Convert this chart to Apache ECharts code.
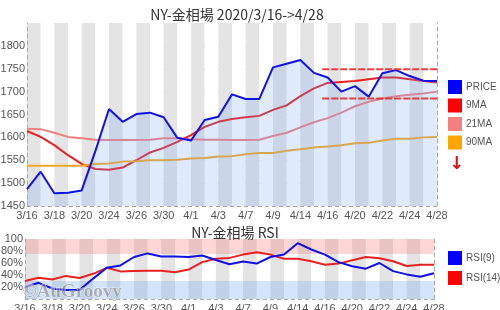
<!DOCTYPE html>
<html><head><meta charset="utf-8">
<script src="https://cdn.jsdelivr.net/npm/echarts@6/dist/echarts.min.js"></script>
<style>html,body{margin:0;padding:0;background:#fff}#c{width:500px;height:310px}</style>
</head><body><div id="c"></div>
<script>
const dates = ['3/16','3/17','3/18','3/19','3/20','3/23','3/24','3/25','3/26','3/27','3/30','3/31','4/1','4/2','4/3','4/6','4/7','4/8','4/9','4/13','4/14','4/15','4/16','4/17','4/20','4/21','4/22','4/23','4/24','4/27','4/28'];
const price = [1487,1525,1478,1479,1484,1570,1662,1634,1651,1654,1644,1599,1593,1638,1645,1694,1684,1684,1753,1761,1769,1741,1731,1700,1712,1689,1740,1747,1734,1724,1723];
const ma9 = [1614,1601,1583,1561,1542,1531,1529,1534,1550,1567,1577,1590,1605,1623,1634,1640,1644,1647,1660,1670,1690,1707,1719,1721,1723,1727,1731,1731,1727,1723,1720];
const ma21 = [1619,1618,1610,1601,1598,1595,1594,1594,1594,1595,1598,1598,1596,1595,1595,1594,1594,1595,1603,1610,1622,1633,1642,1654,1668,1678,1685,1690,1693,1696,1700];
const ma90 = [1538,1538,1538,1538,1538,1542,1543,1547,1548,1550,1550,1551,1554,1555,1558,1559,1563,1566,1566,1571,1574,1578,1580,1583,1587,1588,1593,1597,1597,1600,1601];
const rsi9 = [20,27,17.5,15,15,34,52,56,70,76,71,71,70,72.5,65,58,62.5,59,70,74,93,82.5,74,61.5,54.5,50.5,60,46.5,41,37,43];
const rsi14 = [30,35.5,32.5,38.5,35,42,52,46,46.5,47,47,44.5,49,61.5,67,68.5,74,78,74,67,67,63,57,59,64.5,70,68,63,55,57,57];
const levels = [1749, 1685];
const levelFrom = 21.6, levelTo = 31.4;
const yTicksMain = {min:1450, max:1850, step:50};
const rsiBands = {overbought:[75,100], oversold:[0,30]};

const FONT = "'Liberation Sans',Arial,sans-serif";
const pts = arr => arr.map((v,i)=>[i,v]);
const lbl = {color:'#555', fontSize:11, fontFamily:FONT};
const lgd = {color:'#555', fontSize:10, fontFamily:FONT, padding:[0,0,0,-1]};

function xAx(gi){
  return {type:'value', gridIndex:gi, min:0, max:dates.length-1, interval:1,
    axisLine:{show:false}, axisTick:{show:false},
    axisLabel:Object.assign({margin:4, showMinLabel:true, showMaxLabel:true, hideOverlap:false, formatter:v=> (v%2===0 ? dates[v] : '')}, lbl),
    splitLine:{show:false},
    splitArea:{show:true, areaStyle:{color:['#e4e4e4','#ffffff']}}};
}
const dashed = {color:'#aaa', type:[4,3], width:1};

const line = (name,data,color,x,y,extra) => Object.assign({name, type:'line', xAxisIndex:x, yAxisIndex:y, data:pts(data), symbol:'none', lineStyle:{color, width:2}, itemStyle:{color}, z:3}, extra||{});

const levelSeries = levels.map(v=>({type:'line', xAxisIndex:0, yAxisIndex:0, data:[[levelFrom,v],[levelTo,v]], symbol:'none', clip:false, silent:true,
  lineStyle:{color:'rgba(235,30,30,0.85)', width:2, type:[7,2]}, z:5}));

const option = {
  backgroundColor:'#fff',
  animation:false,
  title:[
    {text:'NY-金相場 2020/3/16->4/28', left:232, top:3, textAlign:'center', textStyle:{fontSize:14, fontWeight:'normal', color:'#333', fontFamily:"'Noto Sans CJK JP',sans-serif"}},
    {text:'NY-金相場 RSI', left:230, top:221, textAlign:'center', textStyle:{fontSize:14, fontWeight:'normal', color:'#333', fontFamily:"'Noto Sans CJK JP',sans-serif"}}
  ],
  legend:[
    {data:[{name:'PRICE',itemStyle:{color:'#0000ff'}},{name:'9MA',itemStyle:{color:'#ff0000'}},{name:'21MA',itemStyle:{color:'#f58080'}},{name:'90MA',itemStyle:{color:'#ffa500'}}],
     orient:'vertical', left:448, top:80, padding:0, itemWidth:14, itemHeight:14, itemGap:4.5, icon:'rect', textStyle:lgd, selectedMode:false},
    {data:[{name:'RSI(9)',itemStyle:{color:'#0000ff'}},{name:'RSI(14)',itemStyle:{color:'#ff0000'}}],
     orient:'vertical', left:448, top:251, padding:0, itemWidth:14, itemHeight:14, itemGap:6, icon:'rect', textStyle:lgd, selectedMode:false}
  ],
  grid:[
    {left:27, right:63, top:23, bottom:104, outerBoundsMode:'none', containLabel:false},
    {left:25, right:66, top:239, bottom:11, outerBoundsMode:'none', containLabel:false}
  ],
  xAxis:[xAx(0), xAx(1)],
  yAxis:[
    {type:'value', gridIndex:0, min:yTicksMain.min, max:yTicksMain.max, interval:yTicksMain.step,
     axisLine:{show:true, lineStyle:dashed}, axisTick:{show:false},
     axisLabel:Object.assign({margin:2, formatter:v=> v===yTicksMain.max ? '' : String(v)}, lbl),
     splitLine:{show:true, lineStyle:dashed}},
    {type:'value', gridIndex:0, position:'right', min:yTicksMain.min, max:yTicksMain.max, interval:yTicksMain.step,
     axisLine:{show:true, lineStyle:dashed}, axisTick:{show:false}, axisLabel:{show:false}, splitLine:{show:false}},
    {type:'value', gridIndex:1, min:0, max:100, interval:20,
     axisLine:{show:true, lineStyle:dashed}, axisTick:{show:false},
     axisLabel:Object.assign({margin:2, showMaxLabel:true, hideOverlap:false, formatter:v=> v===100 ? '100' : (v===0 ? '' : v+'%')}, lbl),
     splitLine:{show:true, lineStyle:dashed}},
    {type:'value', gridIndex:1, position:'right', min:0, max:100, interval:20,
     axisLine:{show:true, lineStyle:dashed}, axisTick:{show:false}, axisLabel:{show:false}, splitLine:{show:false}}
  ],
  series:[
    line('PRICE', price, '#1010e8', 0, 0, {areaStyle:{color:'rgba(110,165,245,0.32)'}, z:4}),
    line('9MA', ma9, '#e82020', 0, 0),
    line('21MA', ma21, '#f08080', 0, 0),
    line('90MA', ma90, '#f5a623', 0, 0),
    ...levelSeries,
    line('RSI(9)', rsi9, '#1010e8', 1, 2, {z:4, markArea:{silent:true, data:[
      [{yAxis:rsiBands.overbought[0], itemStyle:{color:'rgba(250,120,120,0.3)'}},{yAxis:rsiBands.overbought[1]}],
      [{yAxis:rsiBands.oversold[0], itemStyle:{color:'rgba(110,165,245,0.3)'}},{yAxis:rsiBands.oversold[1]}]
    ]}}),
    line('RSI(14)', rsi14, '#e82020', 1, 2)
  ],
  graphic:[
    {type:'text', left:449, top:155, style:{text:'↓', fill:'#e01010', fontSize:18, fontWeight:'bold', fontFamily:"'DejaVu Sans',sans-serif"}, z:10},
    {type:'text', left:22, top:282, style:{text:'©AuGroovy', fill:'rgba(120,120,120,0.5)', stroke:'rgba(255,255,255,0.6)', lineWidth:1, fontSize:19, fontWeight:'bold', fontFamily:"'Liberation Serif','DejaVu Serif',serif"}, z:10}
  ]
};
echarts.init(document.getElementById('c'), null, {renderer:'canvas'}).setOption(option);
</script></body></html>
